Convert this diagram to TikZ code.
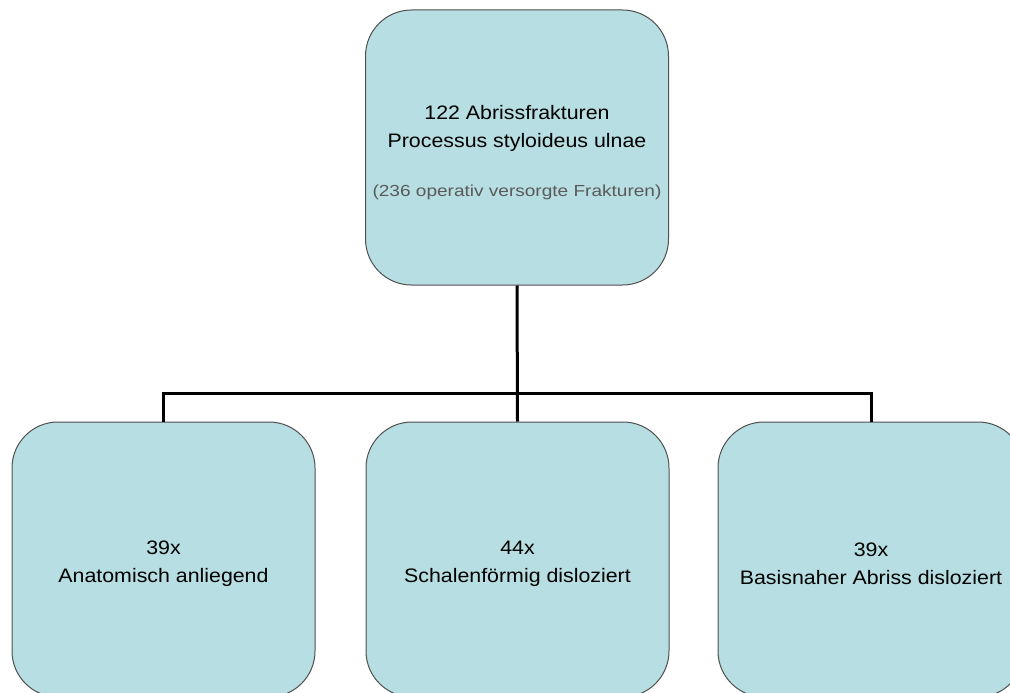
\documentclass[tikz,border=0pt]{standalone}
\usepackage{graphicx}
\usepackage{fontspec}
\setmainfont{Liberation Sans}
\definecolor{boxfill}{RGB}{183,222,226}
\definecolor{boxline}{RGB}{80,80,80}
\definecolor{subtext}{RGB}{90,90,90}
\newcommand{\wideline}[1]{\scalebox{1.095}[1]{#1}}
\newcommand{\widesub}[1]{\scalebox{1.19}[1]{#1}}
\tikzset{
  box/.style={draw=boxline, fill=boxfill, rounded corners=46pt, line width=1pt,
    minimum width=303pt, minimum height=275pt, inner sep=0pt},
  boxtext/.style={align=center, inner sep=0pt, font=\fontsize{19.5}{28}\selectfont},
  conn/.style={draw=black, line width=3pt},
}
\begin{document}
\begin{tikzpicture}[x=1pt,y=-1pt]
\useasboundingbox (0,0) rectangle (1010,693);
\clip (0,0) rectangle (1010,693);
\fill[white] (0,0) rectangle (1010,693);
\coordinate (bus) at (517,393);
\node[box] (top) at (517,147.5) {};
\node[box] (left) at (163.5,559.5) {};
\node[box] (mid) at (517.5,559.5) {};
\node[box, minimum width=306pt] (right) at (871,559.5) {};
\node[boxtext] (toptext) at ([yshift=-5pt]top.center) {\wideline{122 Abrissfrakturen}\\\wideline{Processus styloideus ulnae}\\[21pt]{\fontsize{16}{18}\selectfont\color{subtext}\widesub{(236 operativ versorgte Frakturen)}}};
\node[boxtext] (lefttext) at ([yshift=-4pt]left.center) {\wideline{39x}\\\wideline{Anatomisch anliegend}};
\node[boxtext] (midtext) at ([yshift=-4pt]mid.center) {\wideline{44x}\\\wideline{Schalenförmig disloziert}};
\node[boxtext] (righttext) at ([yshift=-4pt]right.center) {\wideline{39x}\\\wideline{Basisnaher Abriss disloziert}};
\draw[conn] (top.south) -- (mid.north);
\draw[conn] (left.north) -- (left.north |- bus) -- (right.north |- bus) -- (right.north);
\end{tikzpicture}
\end{document}
